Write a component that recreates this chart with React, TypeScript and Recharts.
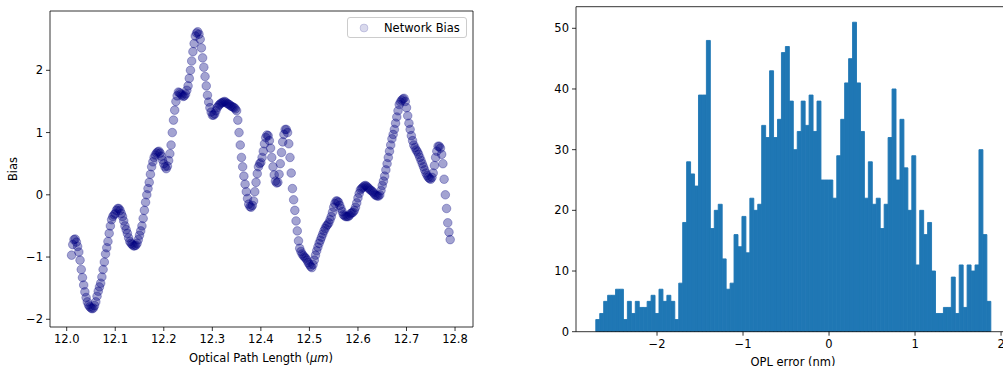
import React from 'react';
import { ScatterChart, Scatter, BarChart, Bar, XAxis, YAxis } from 'recharts';

// left panel: network bias along the optical path
const opl = [
  12.0100, 12.0125, 12.0150, 12.0175, 12.0200, 12.0225, 12.0250, 12.0275,
  12.0300, 12.0325, 12.0350, 12.0375, 12.0400, 12.0425, 12.0450, 12.0475,
  12.0500, 12.0525, 12.0550, 12.0575, 12.0600, 12.0625, 12.0650, 12.0675,
  12.0700, 12.0725, 12.0750, 12.0775, 12.0800, 12.0825, 12.0850, 12.0875,
  12.0900, 12.0925, 12.0950, 12.0975, 12.1000, 12.1025, 12.1050, 12.1075,
  12.1100, 12.1125, 12.1150, 12.1175, 12.1200, 12.1225, 12.1250, 12.1275,
  12.1300, 12.1325, 12.1350, 12.1375, 12.1400, 12.1425, 12.1450, 12.1475,
  12.1500, 12.1525, 12.1550, 12.1575, 12.1600, 12.1625, 12.1650, 12.1675,
  12.1700, 12.1725, 12.1750, 12.1775, 12.1800, 12.1825, 12.1850, 12.1875,
  12.1900, 12.1925, 12.1950, 12.1975, 12.2000, 12.2025, 12.2050, 12.2075,
  12.2100, 12.2125, 12.2150, 12.2175, 12.2200, 12.2225, 12.2250, 12.2275,
  12.2300, 12.2325, 12.2350, 12.2375, 12.2400, 12.2425, 12.2450, 12.2475,
  12.2500, 12.2525, 12.2550, 12.2575, 12.2600, 12.2625, 12.2650, 12.2675,
  12.2700, 12.2725, 12.2750, 12.2775, 12.2800, 12.2825, 12.2850, 12.2875,
  12.2900, 12.2925, 12.2950, 12.2975, 12.3000, 12.3025, 12.3050, 12.3075,
  12.3100, 12.3125, 12.3150, 12.3175, 12.3200, 12.3225, 12.3250, 12.3275,
  12.3300, 12.3325, 12.3350, 12.3375, 12.3400, 12.3425, 12.3450, 12.3475,
  12.3500, 12.3525, 12.3550, 12.3575, 12.3600, 12.3625, 12.3650, 12.3675,
  12.3700, 12.3725, 12.3750, 12.3775, 12.3800, 12.3825, 12.3850, 12.3875,
  12.3900, 12.3925, 12.3950, 12.3975, 12.4000, 12.4025, 12.4050, 12.4075,
  12.4100, 12.4125, 12.4150, 12.4175, 12.4200, 12.4225, 12.4250, 12.4275,
  12.4300, 12.4325, 12.4350, 12.4375, 12.4400, 12.4425, 12.4450, 12.4475,
  12.4500, 12.4525, 12.4550, 12.4575, 12.4600, 12.4625, 12.4650, 12.4675,
  12.4700, 12.4725, 12.4750, 12.4775, 12.4800, 12.4825, 12.4850, 12.4875,
  12.4900, 12.4925, 12.4950, 12.4975, 12.5000, 12.5025, 12.5050, 12.5075,
  12.5100, 12.5125, 12.5150, 12.5175, 12.5200, 12.5225, 12.5250, 12.5275,
  12.5300, 12.5325, 12.5350, 12.5375, 12.5400, 12.5425, 12.5450, 12.5475,
  12.5500, 12.5525, 12.5550, 12.5575, 12.5600, 12.5625, 12.5650, 12.5675,
  12.5700, 12.5725, 12.5750, 12.5775, 12.5800, 12.5825, 12.5850, 12.5875,
  12.5900, 12.5925, 12.5950, 12.5975, 12.6000, 12.6025, 12.6050, 12.6075,
  12.6100, 12.6125, 12.6150, 12.6175, 12.6200, 12.6225, 12.6250, 12.6275,
  12.6300, 12.6325, 12.6350, 12.6375, 12.6400, 12.6425, 12.6450, 12.6475,
  12.6500, 12.6525, 12.6550, 12.6575, 12.6600, 12.6625, 12.6650, 12.6675,
  12.6700, 12.6725, 12.6750, 12.6775, 12.6800, 12.6825, 12.6850, 12.6875,
  12.6900, 12.6925, 12.6950, 12.6975, 12.7000, 12.7025, 12.7050, 12.7075,
  12.7100, 12.7125, 12.7150, 12.7175, 12.7200, 12.7225, 12.7250, 12.7275,
  12.7300, 12.7325, 12.7350, 12.7375, 12.7400, 12.7425, 12.7450, 12.7475,
  12.7500, 12.7525, 12.7550, 12.7575, 12.7600, 12.7625, 12.7650, 12.7675,
  12.7700, 12.7725, 12.7750, 12.7775, 12.7800, 12.7825, 12.7850, 12.7875,
  12.7900,
];
const bias = [
  -0.97, -0.80, -0.72, -0.71, -0.76, -0.83, -0.92, -1.05,
  -1.20, -1.33, -1.45, -1.56, -1.65, -1.72, -1.77, -1.80,
  -1.82, -1.83, -1.82, -1.78, -1.72, -1.63, -1.55, -1.48,
  -1.42, -1.32, -1.20, -1.08, -0.95, -0.85, -0.75, -0.62,
  -0.50, -0.40, -0.35, -0.32, -0.30, -0.25, -0.22, -0.22,
  -0.25, -0.30, -0.35, -0.42, -0.50, -0.56, -0.62, -0.69,
  -0.75, -0.78, -0.80, -0.82, -0.82, -0.81, -0.78, -0.72,
  -0.65, -0.58, -0.50, -0.38, -0.25, -0.12, 0.00, 0.10,
  0.20, 0.33, 0.45, 0.53, 0.60, 0.64, 0.67, 0.69,
  0.70, 0.67, 0.62, 0.56, 0.50, 0.45, 0.42, 0.46,
  0.55, 0.66, 0.80, 1.00, 1.20, 1.36, 1.50, 1.59,
  1.65, 1.64, 1.62, 1.60, 1.58, 1.59, 1.62, 1.68,
  1.75, 1.87, 2.00, 2.15, 2.30, 2.43, 2.55, 2.60,
  2.62, 2.58, 2.50, 2.36, 2.20, 2.05, 1.90, 1.75,
  1.60, 1.49, 1.40, 1.33, 1.28, 1.28, 1.30, 1.35,
  1.40, 1.43, 1.45, 1.47, 1.48, 1.49, 1.50, 1.49,
  1.47, 1.46, 1.45, 1.43, 1.42, 1.41, 1.40, 1.38,
  1.35, 1.20, 1.00, 0.80, 0.60, 0.45, 0.30, 0.17,
  0.05, -0.06, -0.15, -0.19, -0.20, -0.17, -0.10, 0.05,
  0.20, 0.34, 0.45, 0.50, 0.52, 0.60, 0.70, 0.82,
  0.92, 0.96, 0.95, 0.87, 0.75, 0.60, 0.45, 0.32,
  0.22, 0.19, 0.20, 0.33, 0.50, 0.68, 0.85, 0.97,
  1.05, 1.05, 1.00, 0.82, 0.60, 0.35, 0.10, -0.08,
  -0.25, -0.42, -0.58, -0.74, -0.86, -0.91, -0.95, -0.98,
  -1.00, -1.02, -1.05, -1.09, -1.12, -1.15, -1.17, -1.12,
  -1.05, -0.97, -0.90, -0.84, -0.78, -0.73, -0.68, -0.63,
  -0.58, -0.54, -0.50, -0.48, -0.45, -0.40, -0.35, -0.28,
  -0.20, -0.14, -0.10, -0.10, -0.12, -0.17, -0.22, -0.27,
  -0.32, -0.34, -0.35, -0.35, -0.35, -0.33, -0.30, -0.29,
  -0.28, -0.25, -0.20, -0.13, -0.05, 0.02, 0.08, 0.10,
  0.12, 0.14, 0.15, 0.14, 0.12, 0.10, 0.08, 0.07,
  0.05, 0.03, 0.00, -0.01, -0.02, -0.02, 0.00, 0.07,
  0.15, 0.22, 0.30, 0.40, 0.50, 0.60, 0.70, 0.80,
  0.90, 0.97, 1.05, 1.15, 1.25, 1.35, 1.45, 1.49,
  1.52, 1.54, 1.55, 1.50, 1.40, 1.27, 1.15, 1.05,
  0.95, 0.87, 0.80, 0.76, 0.72, 0.69, 0.65, 0.60,
  0.55, 0.50, 0.45, 0.40, 0.35, 0.31, 0.28, 0.26,
  0.25, 0.28, 0.35, 0.47, 0.60, 0.70, 0.78, 0.78,
  0.75, 0.65, 0.50, 0.25, 0.00, -0.22, -0.45, -0.60,
  -0.72,
];
const oplTicks = [12.0, 12.1, 12.2, 12.3, 12.4, 12.5, 12.6, 12.7, 12.8];
const biasTicks = [-2, -1, 0, 1, 2];

// right panel: histogram of OPL error, 100 bins
const errRange = [-2.712, 1.881];
const errCounts = [
  2, 3, 5, 6, 6, 7, 7, 2, 5, 3,
  5, 4, 4, 5, 6, 3, 7, 5, 6, 5,
  2, 8, 18, 28, 26, 24, 39, 39, 48, 17,
  20, 21, 12, 7, 8, 16, 14, 19, 13, 22,
  20, 21, 34, 32, 43, 32, 35, 46, 47, 38,
  30, 33, 38, 34, 39, 33, 38, 25, 25, 25,
  22, 29, 35, 41, 45, 51, 41, 33, 22, 28,
  21, 22, 17, 21, 32, 40, 25, 35, 27, 20,
  29, 11, 20, 16, 18, 10, 3, 3, 4, 4,
  9, 3, 11, 4, 11, 10, 11, 30, 16, 5,
];
const errTicks = [-2, -1, 0, 1, 2];
const countTicks = [0, 10, 20, 30, 40, 50];

const scatterData = opl.map((x, i) => ({ x, y: bias[i] }));
const binWidth = (errRange[1] - errRange[0]) / errCounts.length;
const histData = errCounts.map((count, i) => ({
  center: errRange[0] + binWidth * (i + 0.5),
  count,
}));

const FONT = 'DejaVu Sans, sans-serif';
const tickStyle = { fill: '#000', fontSize: 11.5, fontFamily: FONT };
const spine = { stroke: '#000', strokeWidth: 0.8 };
const minus = (v: number) => (v < 0 ? '\u2212' + Math.abs(v) : String(v));

const Dot = (p: any) => (
  <circle
    cx={p.cx}
    cy={p.cy}
    r={4.3}
    fill="#000080"
    fillOpacity={0.36}
    stroke="#000080"
    strokeOpacity={0.3}
    strokeWidth={1}
  />
);

const text = (style: React.CSSProperties): React.CSSProperties => ({
  position: 'absolute',
  fontSize: 11.5,
  fontFamily: FONT,
  color: '#000',
  whiteSpace: 'nowrap',
  lineHeight: '12px',
  ...style,
});

export default function App() {
  return (
    <div
      style={{
        position: 'absolute',
        left: 0,
        top: 0,
        width: 1003,
        height: 366,
        overflow: 'hidden',
        background: '#fff',
      }}
    >
      <div style={{ position: 'absolute', left: 0, top: 0 }}>
        <ScatterChart width={500} height={366} margin={{ top: 10, right: 26, bottom: 9, left: 10 }}>
          <XAxis
            type="number"
            dataKey="x"
            domain={[11.9656, 12.837]}
            allowDataOverflow
            ticks={oplTicks}
            interval={0}
            tickFormatter={(v) => v.toFixed(1)}
            height={30}
            tick={tickStyle}
            tickSize={4}
            tickMargin={4}
            axisLine={spine}
            tickLine={spine}
          />
          <XAxis xAxisId="top" orientation="top" type="number" domain={[0, 1]} height={1} tick={false} tickLine={false} axisLine={spine} />
          <YAxis
            type="number"
            dataKey="y"
            domain={[-2.124, 2.953]}
            allowDataOverflow
            ticks={biasTicks}
            interval={0}
            tickFormatter={minus}
            width={40}
            tick={tickStyle}
            tickSize={4}
            tickMargin={3}
            axisLine={spine}
            tickLine={spine}
          />
          <YAxis yAxisId="right" orientation="right" type="number" domain={[0, 1]} width={1} tick={false} tickLine={false} axisLine={spine} />
          <Scatter data={scatterData} shape={Dot} isAnimationActive={false} />
        </ScatterChart>
      </div>

      <div
        style={{
          position: 'absolute',
          left: 347,
          top: 17,
          width: 120,
          height: 21,
          boxSizing: 'border-box',
          border: '1px solid #cccccc',
          borderRadius: 3,
          background: 'rgba(255,255,255,0.8)',
        }}
      >
        <svg width={20} height={19} style={{ position: 'absolute', left: 6, top: 0 }}>
          <circle cx={10} cy={10} r={4} fill="#000080" fillOpacity={0.15} stroke="#000080" strokeOpacity={0.15} />
        </svg>
        <div style={text({ left: 36, top: 4 })}>Network Bias</div>
      </div>
      <div style={text({ left: 261, top: 352, transform: 'translateX(-50%)' })}>
        Optical Path Length (<i>μm</i>)
      </div>
      <div style={text({ left: 13, top: 169, transform: 'translate(-50%, -50%) rotate(-90deg)' })}>Bias</div>

      <div style={{ position: 'absolute', left: 520, top: 0 }}>
        <BarChart
          width={495}
          height={366}
          data={histData}
          barCategoryGap={0}
          barGap={0}
          margin={{ top: 5.7, right: 4.4, bottom: 4.3, left: 16 }}
        >
          <XAxis
            type="number"
            dataKey="center"
            domain={[-2.942, 2.111]}
            allowDataOverflow
            ticks={errTicks}
            interval={0}
            tickFormatter={minus}
            height={30}
            tick={tickStyle}
            tickSize={4}
            tickMargin={4}
            axisLine={spine}
            tickLine={spine}
          />
          <XAxis xAxisId="top" orientation="top" type="number" domain={[0, 1]} height={1} tick={false} tickLine={false} axisLine={spine} />
          <YAxis
            type="number"
            domain={[0, 53.56]}
            allowDataOverflow
            ticks={countTicks}
            interval={0}
            width={40}
            tick={tickStyle}
            tickSize={4}
            tickMargin={3}
            axisLine={spine}
            tickLine={spine}
          />
          <Bar
            dataKey="count"
            fill="#1f77b4"
            stroke="#1f77b4"
            strokeWidth={0.9}
            barSize={3.95}
            isAnimationActive={false}
          />
        </BarChart>
      </div>
      <div style={text({ left: 793, top: 356, transform: 'translateX(-50%)' })}>OPL error (nm)</div>
    </div>
  );
}
